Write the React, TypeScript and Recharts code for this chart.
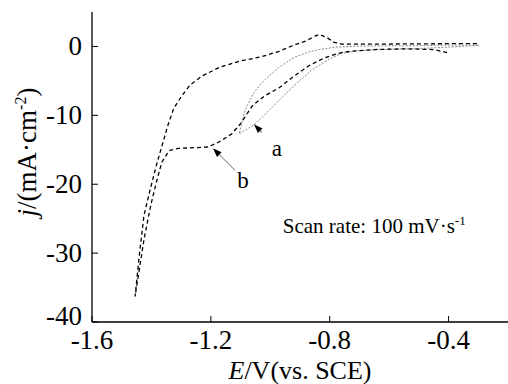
import React from 'react';
import { LineChart, Line, XAxis, YAxis, ReferenceLine, ReferenceDot } from 'recharts';

const FONT = '"Liberation Serif", "Times New Roman", serif';

const xTicks = [-1.6, -1.2, -0.8, -0.4];
const xMinorTicks = [-1.4, -1.0, -0.6];
const yTicks = [0, -10, -20, -30, -40];
const yMinorTicks = [-5, -15, -25, -35];

// curve b: forward (cathodic) sweep then reverse sweep
const bPotential = [
  -0.405, -0.45, -0.55, -0.65, -0.7, -0.75, -0.78, -0.82, -0.87, -0.92, -0.97, -1.02, -1.06,
  -1.1, -1.13, -1.17, -1.21, -1.26, -1.31, -1.34, -1.365, -1.382, -1.402, -1.425, -1.443, -1.455,
  -1.44, -1.425, -1.405, -1.385, -1.365, -1.345, -1.325, -1.3, -1.27, -1.23, -1.17, -1.1,
  -1.03, -0.97, -0.92, -0.88, -0.85, -0.835, -0.81, -0.785, -0.76, -0.6, -0.4, -0.3,
];
const bCurrent = [
  -0.9, -0.45, -0.35, -0.45, -0.6, -0.8, -1.1, -1.7, -2.8, -4.3, -6.0, -7.2, -8.6,
  -11.2, -12.7, -13.8, -14.6, -14.7, -14.8, -15.1, -16.8, -19.5, -23.0, -28.0, -33.0, -36.3,
  -30.0, -24.5, -20.9, -17.5, -14.5, -11.5, -9.0, -7.3, -5.6, -4.3, -3.0, -2.1,
  -1.5, -0.7, 0.2, 0.8, 1.5, 1.75, 1.3, 0.6, 0.35, 0.35, 0.4, 0.4,
];

// curve a
const aPotential = [
  -0.3, -0.4, -0.5, -0.6, -0.7, -0.76, -0.8, -0.86, -0.91, -0.97, -1.025, -1.055, -1.09, -1.105,
  -1.095, -1.085, -1.07, -1.055, -1.035, -1.01, -0.97, -0.92, -0.87, -0.83, -0.78, -0.7, -0.55,
  -0.4, -0.3,
];
const aCurrent = [
  0.15, -0.1, -0.3, -0.4, -0.6, -1.0, -1.8, -3.4, -5.3, -7.8, -10.2, -11.4, -12.3, -12.7,
  -11.0, -9.3, -7.9, -6.7, -5.6, -4.5, -3.0, -1.6, -0.8, -0.4, -0.1, 0.05, 0.1,
  0.2, 0.2,
];

const toPoints = (e: number[], j: number[]) => e.map((E, i) => ({ E, j: j[i] }));
const curveA = toPoints(aPotential, aCurrent);
const curveB = toPoints(bPotential, bCurrent);

const serif = { fontFamily: FONT };

const arrowShape = (color: string) => (p: any) => {
  const { x1, y1, x2, y2 } = p;
  const ang = Math.atan2(y2 - y1, x2 - x1);
  const len = 9;
  const w = 3.2;
  const bx = x2 - len * Math.cos(ang);
  const by = y2 - len * Math.sin(ang);
  const px = -Math.sin(ang) * w;
  const py = Math.cos(ang) * w;
  return (
    <g>
      <line x1={x1} y1={y1} x2={bx} y2={by} stroke={color} strokeWidth={0.9} />
      <polygon points={`${x2},${y2} ${bx + px},${by + py} ${bx - px},${by - py}`} fill='#000' />
    </g>
  );
};

const textAt = (txt: string, size: number) => (p: any) => (
  <text x={p.cx} y={p.cy} textAnchor='middle' dominantBaseline='central' style={serif} fontSize={size} fill='#000'>
    {txt}
  </text>
);

const scanRateLabel = (p: any) => (
  <text x={p.cx} y={p.cy} style={serif} fontSize={21} fill='#000'>
    Scan rate: 100 mV·s
    <tspan dy={-8} fontSize={13}>-1</tspan>
  </text>
);

const XTick = (p: any) => (
  <text x={p.x} y={p.y} dy={19} textAnchor='middle' style={{ ...serif, fontSize: 27 }} fill='#000'>
    {String(p.payload.value)}
  </text>
);

const YTick = (p: any) => (
  <text
    x={p.x}
    y={p.y}
    dy={p.payload.value === -40 ? 3 : 9}
    textAnchor='end'
    style={{ ...serif, fontSize: 27 }}
    fill='#000'
  >
    {String(p.payload.value)}
  </text>
);

const YLabel = () => (
  <text transform='rotate(-90, 36, 152)' x={36} y={152} textAnchor='middle' style={{ ...serif, fontSize: 27 }} fill='#000'>
    <tspan fontStyle='italic'>j</tspan>/(mA·cm
    <tspan dy={-10} fontSize={16}>-2</tspan>
    <tspan dy={10}>)</tspan>
  </text>
);

const XLabel = () => (
  <text x={300} y={379} textAnchor='middle' style={{ ...serif, fontSize: 26 }} fill='#000'>
    <tspan fontStyle='italic'>E</tspan>/V(vs. SCE)
  </text>
);

export default function App() {
  return (
    <div style={{ position: 'absolute', left: 0, top: 0, width: 508, height: 384, background: '#fff', fontFamily: FONT }}>
      <LineChart width={508} height={384} margin={{ top: 12, right: 0, bottom: 0, left: 0 }} style={serif}>
        <XAxis
          xAxisId='minor'
          type='number'
          dataKey='E'
          domain={[-1.6, -0.2]}
          ticks={xMinorTicks}
          tick={false}
          axisLine={false}
          tickSize={-3}
          tickLine={{ stroke: '#000' }}
          height={0}
        />
        <XAxis
          xAxisId='x'
          type='number'
          dataKey='E'
          domain={[-1.6, -0.2]}
          ticks={xTicks}
          tickSize={-6}
          tickMargin={14}
          height={62}
          axisLine={{ stroke: '#000', strokeWidth: 1.3 }}
          tickLine={{ stroke: '#000' }}
          tick={<XTick />}
          label={<XLabel />}
        />
        <XAxis
          xAxisId='top'
          orientation='top'
          type='number'
          dataKey='E'
          domain={[-1.6, -0.2]}
          tick={false}
          tickLine={false}
          height={0}
          axisLine={{ stroke: '#000', strokeWidth: 1.3 }}
        />
        <YAxis
          yAxisId='minor'
          type='number'
          domain={[-40, 5]}
          ticks={yMinorTicks}
          tick={false}
          axisLine={false}
          tickSize={-3}
          tickLine={{ stroke: '#000' }}
          width={0}
        />
        <YAxis
          yAxisId='y'
          type='number'
          domain={[-40, 5]}
          ticks={yTicks}
          tickSize={-6}
          tickMargin={16}
          width={92}
          axisLine={{ stroke: '#000', strokeWidth: 1.3 }}
          tickLine={{ stroke: '#000' }}
          tick={<YTick />}
          label={<YLabel />}
        />
        <Line
          xAxisId='x'
          yAxisId='y'
          data={curveA}
          dataKey='j'
          type='linear'
          stroke='#8a8a8a'
          strokeWidth={1}
          strokeDasharray='2 1.5'
          dot={false}
          isAnimationActive={false}
        />
        <Line
          xAxisId='x'
          yAxisId='y'
          data={curveB}
          dataKey='j'
          type='linear'
          stroke='#000'
          strokeWidth={1.3}
          strokeDasharray='4 3'
          dot={false}
          isAnimationActive={false}
        />
        <ReferenceLine
          xAxisId='x'
          yAxisId='y'
          segment={[{ x: -1.119, y: -17.97 }, { x: -1.193, y: -14.78 }]}
          ifOverflow='visible'
          shape={arrowShape('#555')}
        />
        <ReferenceLine
          xAxisId='x'
          yAxisId='y'
          segment={[{ x: -1.029, y: -12.46 }, { x: -1.055, y: -11.3 }]}
          ifOverflow='visible'
          shape={arrowShape('#000')}
        />
        <ReferenceDot xAxisId='x' yAxisId='y' x={-0.978} y={-14.8} r={0} ifOverflow='visible' shape={textAt('a', 23)} />
        <ReferenceDot xAxisId='x' yAxisId='y' x={-1.092} y={-19.4} r={0} ifOverflow='visible' shape={textAt('b', 23)} />
        <ReferenceDot xAxisId='x' yAxisId='y' x={-0.958} y={-27.1} r={0} ifOverflow='visible' shape={scanRateLabel} />
      </LineChart>
    </div>
  );
}
